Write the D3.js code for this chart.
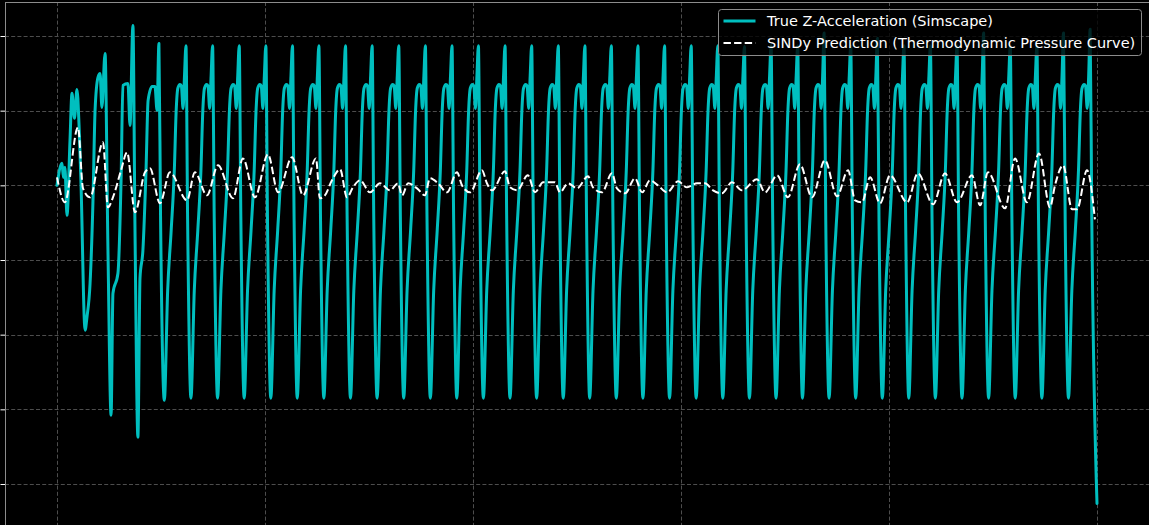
<!DOCTYPE html>
<html>
<head>
<meta charset="utf-8">
<script src="https://cdn.jsdelivr.net/npm/d3@7"></script>
<style>
  html, body { margin: 0; padding: 0; background: #000; }
  svg { display: block; }
  text { font-family: "DejaVu Sans", sans-serif; }
</style>
</head>
<body>
<svg id="chart" width="1149" height="525"></svg>
<script>
// ── Data ────────────────────────────────────────────────────────────────────
// time in s, acceleration in m/s²

// irregular start-up transient of the true signal
const startTimes  = [0, 0.024, 0.031, 0.038, 0.048, 0.0625, 0.072, 0.084, 0.096, 0.106, 0.115,
                     0.135, 0.144, 0.159, 0.173, 0.183, 0.197, 0.207, 0.216, 0.231, 0.245,
                     0.260, 0.269, 0.293, 0.308, 0.317, 0.341, 0.351, 0.365, 0.375,
                     0.389, 0.399, 0.413, 0.428, 0.438, 0.457, 0.471, 0.481, 0.490, 0.498];
const startValues = [0, 2.95, 1.07, 2.41, -4.02, 6.02, 12.32, 8.97, 12.85, 8.03, 0.67,
                     -19.41, -17.67, -13.12, -2.01, 10.04, 14.46, 14.99, 10.44, 17.67, -8.70,
                     -30.79, -14.46, -11.78, 0.67, 13.39, 13.65, 8.03, 21.42, -6.02,
                     -33.73, -12.45, -8.70, 2.01, 11.38, 13.25, 13.25, 10.04, 19.01, -4.69];

// steady pumping cycles: spike time, spike height, preceding trough depth
const peakTimes = [0.620, 0.748, 0.876, 1.004, 1.132, 1.259, 1.387, 1.515, 1.643, 1.771,
                   1.899, 2.026, 2.154, 2.282, 2.410, 2.538, 2.665, 2.793, 2.921, 3.049,
                   3.177, 3.305, 3.433, 3.561, 3.688, 3.816, 3.944, 4.072, 4.199, 4.327,
                   4.455, 4.583, 4.711, 4.839, 4.967];
const peakValues = [18.7, 18.7, 18.7, 18.7, 18.7, 18.7, 18.7, 18.7, 18.7, 18.7,
                    18.7, 18.7, 18.7, 18.7, 18.7, 18.7, 18.7, 18.7, 18.7, 18.7,
                    18.7, 18.6, 18.7, 18.7, 20.4, 18.7, 19.7, 18.7, 18.7, 18.7,
                    20.4, 18.7, 18.7, 20.4, 20.9];
const troughValues = [-28.8, -28.5, -28.5, -28.5, -28.5, -28.5, -28.5, -28.5, -28.5, -28.5,
                      -28.5, -28.5, -28.5, -28.5, -28.5, -28.5, -28.5, -28.5, -28.5, -28.5,
                      -28.5, -28.5, -28.5, -28.5, -28.5, -28.5, -28.5, -28.5, -28.5, -28.5,
                      -28.5, -28.5, -28.5, -28.5, -28.5];
// shape of one cycle around its spike (s from spike, value); null = per-cycle value
const cycleOffsets = [-0.104, -0.088, -0.071, -0.056, -0.047, -0.039, -0.029, -0.022, -0.014, -0.007, 0, 0.008];
const cycleValues  = [null, -14.1, -6.0, 2.0, 10.0, 13.0, 13.5, 13.3, 10.3, 14.7, null, -4.7];

// final collapse at the end of the run
const endTimes  = [5.0];
const endValues = [-42.6];

// SINDy prediction
const predTimes = [0, 0.038, 0.101, 0.125, 0.159, 0.221, 0.245, 0.269, 0.308, 0.337, 0.375,
  0.423, 0.447, 0.495, 0.543, 0.625, 0.663, 0.721, 0.774, 0.846, 0.894, 0.952, 1.014, 1.063,
  1.130, 1.183, 1.245, 1.264, 1.288, 1.322, 1.361, 1.394, 1.423, 1.457, 1.505, 1.553, 1.601,
  1.639, 1.659, 1.688, 1.731, 1.769, 1.793, 1.832, 1.875, 1.923, 1.947, 1.986, 2.043, 2.067,
  2.091, 2.154, 2.178, 2.212, 2.264, 2.298, 2.337, 2.394, 2.418, 2.457, 2.500, 2.553, 2.577,
  2.620, 2.668, 2.692, 2.731, 2.779, 2.813, 2.851, 2.889, 2.933, 2.986, 3.029, 3.077, 3.115,
  3.154, 3.197, 3.245, 3.293, 3.365, 3.404, 3.462, 3.514, 3.572, 3.630, 3.692, 3.750, 3.803,
  3.837, 3.870, 3.909, 3.957, 4.005, 4.087, 4.139, 4.212, 4.269, 4.327, 4.399, 4.438, 4.476,
  4.558, 4.606, 4.663, 4.721, 4.774, 4.798, 4.837, 4.880, 4.904, 4.952, 4.990];
const predValues = [1.07, -2.28, 7.76, -0.40, -1.61, 5.76, -2.95, -1.61, 2.01, 4.42, -3.61,
  1.74, 2.28, -2.41, 1.74, -2.01, 1.74, -1.34, 2.68, -1.74, 3.61, -1.61, 4.15, -0.94,
  3.75, -1.34, 3.61, -1.74, -1.34, 0.67, 2.14, -1.61, -0.27, 0.67, -0.94, 0.27, -0.67,
  0.27, -1.34, 0.27, -0.40, -1.34, 0.94, 0.27, -0.94, 1.74, 0, -0.94, 2.01, 0.27,
  -0.67, 1.87, -0.27, -0.67, 1.34, -0.94, 0.40, 0.40, -0.94, 0.27, -0.40, 1.20, -0.27,
  -0.94, 1.61, -0.40, -1.07, 0.94, -0.94, 0.67, 0, -0.94, 0.54, -0.27, 0.27, 0.27,
  -0.67, -1.07, 0.40, -0.67, 0.80, -0.94, 1.34, -1.61, 2.81, -1.61, 3.35, -1.47, 2.01,
  -2.01, -2.28, 1.07, -2.41, 1.34, -2.28, 1.61, -2.54, 1.61, -2.28, 1.34, -2.68, 1.74,
  -3.08, 3.61, -2.28, 4.28, -2.95, 0, 2.68, -3.21, -3.21, 2.01, -4.55];

const xTicks = [0, 1, 2, 3, 4, 5];
const yTicks = [-40, -30, -20, -10, 0, 10, 20];

const legendLabels = ["True Z-Acceleration (Simscape)", "SINDy Prediction (Thermodynamic Pressure Curve)"];

// ── Build series ─────────────────────────────────────────────────────────────
const truth = startTimes.map((t, i) => [t, startValues[i]]);
peakTimes.forEach((tp, i) => {
  cycleOffsets.forEach((dt, j) => {
    let v = cycleValues[j];
    if (j === 0) v = troughValues[i];
    if (dt === 0) v = peakValues[i];
    truth.push([tp + dt, v]);
  });
});
endTimes.forEach((t, i) => truth.push([t, endValues[i]]));
const pred = predTimes.map((t, i) => [t, predValues[i]]);

// ── Layout ───────────────────────────────────────────────────────────────────
const W = 1149, H = 525;
const frame = { left: 5, top: 2, right: 1160, bottom: 540 };
const svg = d3.select("#chart");

const x = d3.scaleLinear().domain([0, 5]).range([57, 1097]);
const y = d3.scaleLinear().domain([-40, 20]).range([484, 36]);

svg.append("rect").attr("width", W).attr("height", H).attr("fill", "#000");

svg.append("defs").append("clipPath").attr("id", "plot-clip")
  .append("rect")
  .attr("x", frame.left).attr("y", frame.top)
  .attr("width", frame.right - frame.left).attr("height", frame.bottom - frame.top);

// ── Grid ─────────────────────────────────────────────────────────────────────
const grid = svg.append("g").attr("clip-path", "url(#plot-clip)")
  .attr("stroke", "#4d4d4d").attr("stroke-width", 1).attr("stroke-dasharray", "4,2.2");
grid.selectAll("line.gx").data(xTicks).join("line")
  .attr("x1", d => Math.round(x(d)) + 0.5).attr("x2", d => Math.round(x(d)) + 0.5)
  .attr("y1", frame.top).attr("y2", frame.bottom);
grid.selectAll("line.gy").data(yTicks).join("line")
  .attr("y1", d => Math.round(y(d)) + 0.5).attr("y2", d => Math.round(y(d)) + 0.5)
  .attr("x1", frame.left).attr("x2", frame.right);

// ── Axes (labels fall outside the cropped figure) ────────────────────────────
const yAxis = svg.append("g")
  .attr("transform", `translate(${frame.left + 0.5},0)`)
  .call(d3.axisLeft(y).tickValues(yTicks).tickSize(5).tickFormat(""));
yAxis.select(".domain").remove();
yAxis.selectAll("line").attr("stroke", "#ffffff");

// spines
svg.append("line").attr("x1", frame.left + 0.5).attr("x2", frame.left + 0.5)
  .attr("y1", frame.top).attr("y2", H).attr("stroke", "#8c8c8c").attr("stroke-width", 1);
svg.append("line").attr("x1", frame.left).attr("x2", W)
  .attr("y1", frame.top + 0.5).attr("y2", frame.top + 0.5).attr("stroke", "#8c8c8c").attr("stroke-width", 1);

// ── Lines ────────────────────────────────────────────────────────────────────
const line = d3.line().x(d => x(d[0])).y(d => y(d[1])).curve(d3.curveMonotoneX);
const plot = svg.append("g").attr("clip-path", "url(#plot-clip)");

plot.append("path").datum(truth)
  .attr("d", line)
  .attr("fill", "none").attr("stroke", "#00bfbf").attr("stroke-width", 3)
  .attr("stroke-linejoin", "round").attr("stroke-linecap", "round");

plot.append("path").datum(pred)
  .attr("d", line)
  .attr("fill", "none").attr("stroke", "#ffffff").attr("stroke-width", 2)
  .attr("stroke-dasharray", "7.4,3.2");

// ── Legend ───────────────────────────────────────────────────────────────────
const lg = svg.append("g").attr("transform", "translate(718.5,9.5)");
lg.append("rect").attr("width", 423).attr("height", 46).attr("rx", 3)
  .attr("fill", "#000").attr("fill-opacity", 0.8)
  .attr("stroke", "#8c8c8c").attr("stroke-width", 1);
legendLabels.forEach((label, i) => {
  const row = lg.append("g").attr("transform", `translate(0,${11.5 + i * 22})`);
  row.append("line").attr("x1", 5).attr("x2", 37).attr("y1", 0).attr("y2", 0)
    .attr("stroke", i === 0 ? "#00bfbf" : "#ffffff")
    .attr("stroke-width", i === 0 ? 3 : 2)
    .attr("stroke-dasharray", i === 0 ? null : "7.4,3.2");
  row.append("text").attr("x", 48.5).attr("y", 5.2).attr("fill", "#ffffff")
    .attr("font-size", 14.5).text(label);
});
</script>
</body>
</html>
